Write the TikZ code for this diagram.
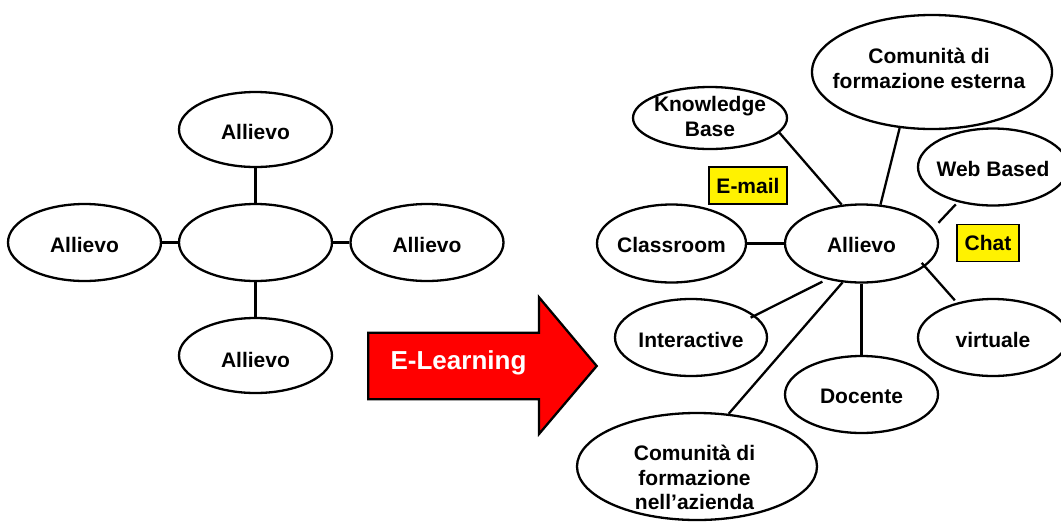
\documentclass[tikz,border=0pt]{standalone}
\usepackage{fontspec}
\setmainfont{Liberation Sans}
\usetikzlibrary{shapes.geometric}
\begin{document}
\begin{tikzpicture}[x=1pt,y=-1pt,
  ell/.style args={#1/#2}{ellipse, draw=black, line width=2.3pt, fill=white, inner sep=0pt, minimum width=#1pt, minimum height=#2pt},
  txt/.style={font=\fontsize{21}{24.5}\selectfont\bfseries, align=center, inner sep=0pt, text=black},
  conn/.style={line width=2.3pt, draw=black},
  tag/.style={draw=black, line width=1.8pt, fill=yellow, inner sep=0pt, minimum width=#1pt, minimum height=37pt, txt}
]
\useasboundingbox (0,0) rectangle (1061,523);
\clip (0,0) rectangle (1061,523);
\fill[white] (0,0) rectangle (1061,523);

% ---------- left diagram ----------
\node[ell=153/75, label={[txt,yshift=-2pt]center:Allievo}] (LT) at (255.5,129.5) {};
\node[ell=153/77] (LC) at (255.5,242.5) {};
\node[ell=153/77, label={[txt,yshift=-2pt]center:Allievo}] (LL) at (84.5,242.5) {};
\node[ell=153/77, label={[txt,yshift=-2pt]center:Allievo}] (LR) at (427,242.5) {};
\node[ell=153/75] (LB) at (255.5,355.5) {};
\begin{scope}
  \clip (150,300) rectangle (360,366.3);
  \node[txt, anchor=base] (LBt) at (255.5,367.2) {Allievo};
\end{scope}
\draw[conn] (LT.south) -- (LC.north);
\draw[conn] (LC.south) -- (LB.north);
\draw[conn] (LL.east) -- (LC.west);
\draw[conn] (LC.east) -- (LR.west);

% ---------- arrow ----------
\draw[line width=2.3pt, fill=red, line join=miter] (368.3,332.7) -- (539,332.7) -- (539,297.3) -- (596.7,366) -- (539,434) -- (539,399.3) -- (368.3,399.3) -- cycle;
\node[font=\fontsize{26}{30}\selectfont\bfseries, text=white, inner sep=0pt] (EL) at (458.5,363) {E-Learning};

% ---------- right diagram ----------
\node[ell=240/114, label={[txt,xshift=-3pt,yshift=3.5pt]center:{Comunità di\\formazione esterna}}] (ext) at (932,72) {};
\node[ell=154/62, label={[txt,yshift=1.5pt]center:{Knowledge\\Base}}] (kb) at (710,118) {};
\node[ell=150/77, label={[txt,yshift=-1.5pt]center:Web Based}] (web) at (993,167) {};
\node[ell=149/78, label={[txt,yshift=-1.5pt]center:Classroom}] (cls) at (671.5,243.5) {};
\node[ell=153/78, label={[txt,yshift=-1.5pt]center:Allievo}] (al) at (861.5,243.5) {};
\node[ell=152/77, label={[txt,yshift=-2pt]center:Interactive}] (inter) at (691,337.5) {};
\node[ell=150/77, label={[txt,yshift=-2pt]center:virtuale}] (virt) at (993,337.5) {};
\node[ell=153/77, label={[txt,yshift=-1.5pt]center:Docente}] (doc) at (861.5,394.5) {};
\node[ell=240/107, label={[txt,xshift=-2.5pt,yshift=-11pt]center:{Comunità di\\formazione\\nell’azienda}}] (az) at (697,466.5) {};

\node[tag=78] (email) at (748,185.5) {E-mail};
\node[tag=62] (chat) at (988,243) {Chat};

\draw[conn] (cls.east) -- (al.west);
\draw[conn] (kb.-12) -- (al.117);
\draw[conn] (ext.-120) -- (al.64);
\draw[conn, shorten <=3pt, shorten >=7.5pt] (web.-135) -- (al.12);
\draw[conn, shorten <=5pt, shorten >=-5pt] (al.-134) -- (inter.19);
\draw[conn] (al.-116) -- (az.59);
\draw[conn] (al.south) -- (doc.north);
\draw[conn, shorten <=-5pt, shorten >=3pt] (al.-20) -- (virt.136);
\end{tikzpicture}
\end{document}
